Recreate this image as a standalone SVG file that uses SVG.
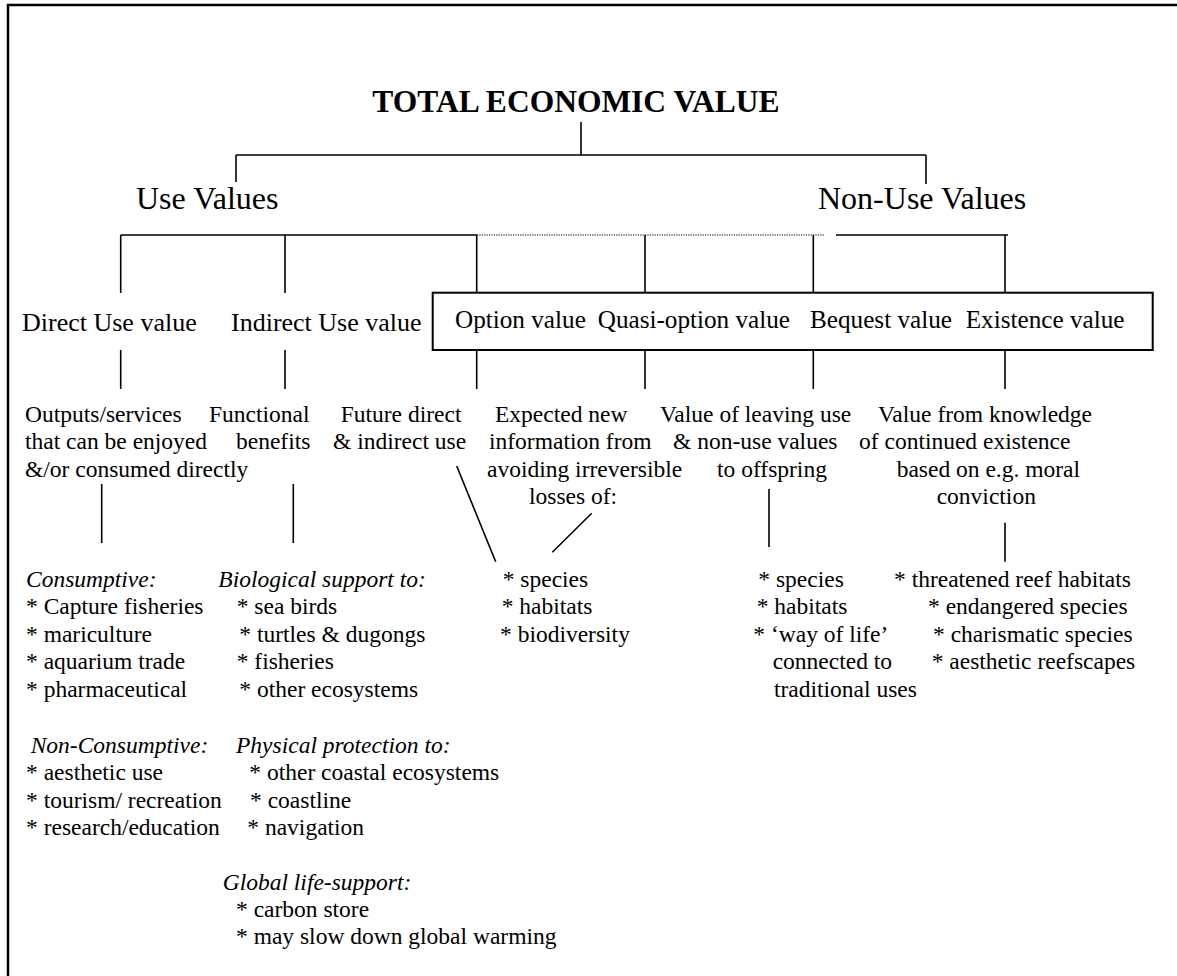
<svg xmlns="http://www.w3.org/2000/svg" width="1177" height="976" viewBox="0 0 1177 976">
<style>
text{font-family:"Liberation Serif","Times New Roman",serif;fill:#000}
.t{font-size:31.5px;font-weight:bold}
.h{font-size:32px}
.c{font-size:26px}
.b{font-size:25.2px}
.x{font-size:23.5px}
.i{font-size:23.5px;font-style:italic}
.ln{stroke:#000;stroke-width:1.6;fill:none}
.dot{stroke:#000;stroke-width:1.2;stroke-dasharray:1.2 1.2;fill:none}
</style>
<rect x="8" y="5" width="1300" height="1100" fill="#fff" stroke="#000" stroke-width="2.5"/>
<g id="connectors">
<line class="ln" x1="581" y1="122" x2="581" y2="155"/>
<line class="ln" x1="236" y1="155" x2="926" y2="155"/>
<line class="ln" x1="236" y1="155" x2="236" y2="182"/>
<line class="ln" x1="926" y1="155" x2="926" y2="184"/>
<line class="ln" x1="120.7" y1="235" x2="477" y2="235"/>
<line class="dot" x1="477" y1="235" x2="825" y2="235"/>
<line class="ln" x1="836" y1="235" x2="1008" y2="235"/>
<line class="ln" x1="120.7" y1="235" x2="120.7" y2="293"/>
<line class="ln" x1="285" y1="235" x2="285" y2="293"/>
<line class="ln" x1="476.7" y1="235" x2="476.7" y2="293"/>
<line class="ln" x1="645" y1="235" x2="645" y2="293"/>
<line class="ln" x1="813.3" y1="235" x2="813.3" y2="293"/>
<line class="ln" x1="1005" y1="235" x2="1005" y2="293"/>
<line class="ln" x1="120.7" y1="350" x2="120.7" y2="389"/>
<line class="ln" x1="285" y1="350" x2="285" y2="389"/>
<line class="ln" x1="476.7" y1="350" x2="476.7" y2="389"/>
<line class="ln" x1="645" y1="350" x2="645" y2="389"/>
<line class="ln" x1="813.3" y1="350" x2="813.3" y2="389"/>
<line class="ln" x1="1005" y1="350" x2="1005" y2="389"/>
<line class="ln" x1="101.7" y1="484" x2="101.7" y2="543"/>
<line class="ln" x1="293.3" y1="484" x2="293.3" y2="543"/>
<line class="ln" x1="456.7" y1="466" x2="495.7" y2="561.7"/>
<line class="ln" x1="591.7" y1="513.3" x2="552.3" y2="552.3"/>
<line class="ln" x1="769" y1="489" x2="769" y2="547"/>
<line class="ln" x1="1005" y1="522.7" x2="1005" y2="561.7"/>
</g>
<g id="total"><text class="t" x="576" y="112" text-anchor="middle">TOTAL ECONOMIC VALUE</text></g>
<g id="use-values"><text class="h" x="136" y="209">Use Values</text></g>
<g id="non-use-values"><text class="h" x="818" y="209">Non-Use Values</text></g>
<g id="direct-use"><text class="c" x="22" y="331">Direct Use value</text></g>
<g id="indirect-use"><text class="c" x="231" y="331">Indirect Use value</text></g>
<g id="nonuse-box">
<rect x="432.7" y="292.7" width="720" height="57.3" fill="none" stroke="#000" stroke-width="2"/>
<text class="b" x="455" y="328">Option value</text>
<text class="b" x="597.7" y="328">Quasi-option value</text>
<text class="b" x="810" y="328">Bequest value</text>
<text class="b" x="965.7" y="328">Existence value</text>
</g>
<g id="direct-desc">
<text class="x" x="25" y="421.5">Outputs/services</text>
<text class="x" x="25" y="449">that can be enjoyed</text>
<text class="x" x="25" y="476.5">&amp;/or consumed directly</text>
</g>
<g id="indirect-desc">
<text class="x" x="209" y="421.5">Functional</text>
<text class="x" x="236" y="449">benefits</text>
</g>
<g id="option-desc">
<text class="x" x="340.7" y="421.5">Future direct</text>
<text class="x" x="333" y="449">&amp; indirect use</text>
</g>
<g id="quasi-desc">
<text class="x" x="495" y="421.5">Expected new</text>
<text class="x" x="489" y="449">information from</text>
<text class="x" x="487" y="476.5">avoiding irreversible</text>
<text class="x" x="529" y="504">losses of:</text>
</g>
<g id="bequest-desc">
<text class="x" x="660" y="421.5">Value of leaving use</text>
<text class="x" x="673" y="449">&amp; non-use values</text>
<text class="x" x="717" y="476.5">to offspring</text>
</g>
<g id="existence-desc">
<text class="x" x="878" y="421.5">Value from knowledge</text>
<text class="x" x="859" y="449">of continued existence</text>
<text class="x" x="896.7" y="476.5">based on e.g. moral</text>
<text class="x" x="936.7" y="504">conviction</text>
</g>
<g id="direct-examples">
<text class="i" x="26" y="586.7">Consumptive:</text>
<text class="x" x="26" y="614">* Capture fisheries</text>
<text class="x" x="26" y="641.7">* mariculture</text>
<text class="x" x="26" y="669">* aquarium trade</text>
<text class="x" x="26" y="696.7">* pharmaceutical</text>
<text class="i" x="30.7" y="752.7">Non-Consumptive:</text>
<text class="x" x="26" y="780">* aesthetic use</text>
<text class="x" x="26" y="807.7">* tourism/ recreation</text>
<text class="x" x="26" y="835">* research/education</text>
</g>
<g id="indirect-examples">
<text class="i" x="218.3" y="586.7">Biological support to:</text>
<text class="x" x="236.7" y="614">* sea birds</text>
<text class="x" x="239.3" y="641.7">* turtles &amp; dugongs</text>
<text class="x" x="236.7" y="669">* fisheries</text>
<text class="x" x="239.3" y="696.7">* other ecosystems</text>
<text class="i" x="236" y="752.7">Physical protection to:</text>
<text class="x" x="249.3" y="780">* other coastal ecosystems</text>
<text class="x" x="250" y="807.7">* coastline</text>
<text class="x" x="247.3" y="835">* navigation</text>
<text class="i" x="222.7" y="890">Global life-support:</text>
<text class="x" x="236" y="916.7">* carbon store</text>
<text class="x" x="236" y="944.3">* may slow down global warming</text>
</g>
<g id="option-examples">
<text class="x" x="502.7" y="586.7">* species</text>
<text class="x" x="501.7" y="614">* habitats</text>
<text class="x" x="500" y="641.7">* biodiversity</text>
</g>
<g id="bequest-examples">
<text class="x" x="758.3" y="586.7">* species</text>
<text class="x" x="756.7" y="614">* habitats</text>
<text class="x" x="753.3" y="641.7">* ‘way of life’</text>
<text class="x" x="772.7" y="669">connected to</text>
<text class="x" x="774" y="696.7">traditional uses</text>
</g>
<g id="existence-examples">
<text class="x" x="894" y="586.7">* threatened reef habitats</text>
<text class="x" x="928" y="614">* endangered species</text>
<text class="x" x="933" y="641.7">* charismatic species</text>
<text class="x" x="931.7" y="669">* aesthetic reefscapes</text>
</g>
</svg>
